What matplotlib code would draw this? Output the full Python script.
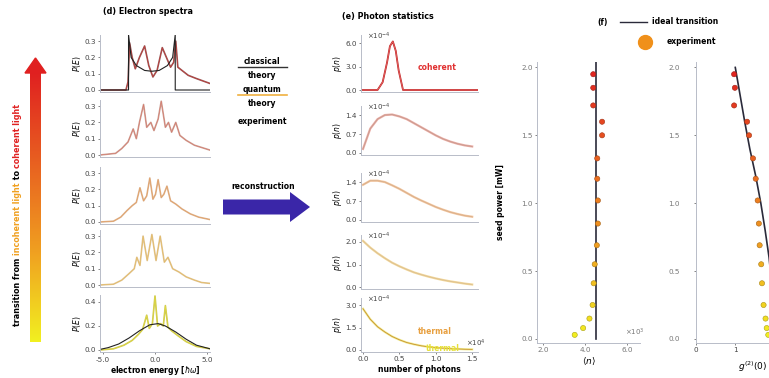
import numpy as np
import matplotlib
matplotlib.use("Agg")
import matplotlib.pyplot as plt
from matplotlib.colors import LinearSegmentedColormap
from matplotlib.patches import Polygon, FancyArrow

# ---------------- data ----------------
# (d) electron spectra, energy in units of hbar*omega
e_row1 = [-5.3, -2.8, -2.6, -2.45, -2.2, -1.9, -1.5, -1.0, -0.6, -0.2, 0.2, 0.7, 1.1, 1.5, 1.8, 2.0, 2.2, 2.6, 3.2, 4.0, 5.3]
p_row1 = [0, 0, 0.05, 0.29, 0.2, 0.13, 0.2, 0.27, 0.15, 0.08, 0.12, 0.26, 0.2, 0.14, 0.17, 0.3, 0.14, 0.12, 0.09, 0.07, 0.04]
e_row1_cl = [-5.3, -2.55, -2.55, -2.3, -1.8, -1.0, -0.3, 0.4, 1.2, 1.7, 1.95, 1.95, 5.3]
p_row1_cl = [0, 0, 0.34, 0.2, 0.15, 0.12, 0.115, 0.12, 0.15, 0.2, 0.34, 0, 0]
e_row2 = [-5.3, -3.8, -3.2, -2.6, -2.1, -1.8, -1.5, -1.1, -0.8, -0.4, -0.1, 0.3, 0.6, 1.0, 1.3, 1.6, 2.0, 2.4, 3.0, 3.8, 5.3]
p_row2 = [0, 0.01, 0.04, 0.08, 0.16, 0.1, 0.2, 0.31, 0.17, 0.2, 0.15, 0.22, 0.33, 0.17, 0.2, 0.14, 0.2, 0.12, 0.09, 0.06, 0.03]
e_row3 = [-5.3, -4.0, -3.3, -2.7, -2.2, -1.8, -1.45, -1.1, -0.8, -0.5, -0.2, 0.05, 0.3, 0.6, 0.85, 1.15, 1.5, 2.0, 2.6, 3.4, 4.2, 5.3]
p_row3 = [0, 0.005, 0.03, 0.07, 0.1, 0.12, 0.21, 0.13, 0.16, 0.27, 0.14, 0.17, 0.26, 0.15, 0.17, 0.22, 0.13, 0.11, 0.08, 0.05, 0.03, 0.015]
e_row4 = [-5.3, -4.0, -3.2, -2.5, -2.0, -1.75, -1.45, -1.15, -0.75, -0.3, 0.1, 0.5, 0.9, 1.25, 1.7, 2.3, 3.0, 3.8, 4.5, 5.3]
p_row4 = [0, 0.005, 0.03, 0.07, 0.1, 0.17, 0.12, 0.3, 0.15, 0.31, 0.15, 0.3, 0.14, 0.17, 0.1, 0.08, 0.05, 0.03, 0.015, 0.01]
e_row5 = [-5.3, -4.0, -3.0, -2.2, -1.6, -1.2, -0.8, -0.55, -0.25, 0.0, 0.25, 0.55, 0.8, 1.0, 1.25, 1.6, 2.2, 3.0, 4.0, 5.3]
p_row5 = [0, 0.01, 0.04, 0.08, 0.13, 0.17, 0.29, 0.18, 0.22, 0.45, 0.2, 0.22, 0.2, 0.37, 0.19, 0.16, 0.12, 0.07, 0.03, 0.01]
e_row5_cl = [-5.3, -4.5, -3.5, -2.5, -1.5, -0.5, 0.3, 1.0, 2.0, 3.0, 4.0, 5.3]
p_row5_cl = [0.005, 0.02, 0.05, 0.1, 0.16, 0.21, 0.22, 0.2, 0.15, 0.09, 0.04, 0.01]

# (e) photon statistics, n in units of 1e4, p(n) in units of 1e-4
n_grid = [0.0, 0.1, 0.2, 0.3, 0.4, 0.5, 0.6, 0.7, 0.8, 0.9, 1.0, 1.1, 1.2, 1.3, 1.4, 1.5]
n_coh = [0.0, 0.2, 0.27, 0.33, 0.37, 0.41, 0.45, 0.49, 0.55, 1.6]
p_coh = [0.0, 0.0, 1.0, 3.5, 5.6, 6.2, 5.0, 2.5, 0.0, 0.0]
p_e2 = [0.15, 0.9, 1.25, 1.4, 1.42, 1.35, 1.25, 1.1, 0.95, 0.8, 0.65, 0.52, 0.42, 0.34, 0.28, 0.24]
p_e3 = [1.3, 1.45, 1.45, 1.4, 1.28, 1.15, 1.0, 0.85, 0.72, 0.6, 0.48, 0.38, 0.29, 0.22, 0.16, 0.12]
p_e4 = [2.05, 1.75, 1.5, 1.28, 1.08, 0.92, 0.78, 0.65, 0.55, 0.46, 0.38, 0.31, 0.25, 0.2, 0.15, 0.11]
p_e5 = [2.75, 2.05, 1.55, 1.2, 0.9, 0.68, 0.5, 0.38, 0.28, 0.21, 0.16, 0.12, 0.09, 0.07, 0.05, 0.04]

# (f) seed power [mW], mean photon number (1e3), g2(0)
power = [1.95, 1.85, 1.72, 1.6, 1.5, 1.33, 1.18, 1.02, 0.85, 0.69, 0.55, 0.41, 0.25, 0.15, 0.08, 0.03]
mean_n = [4.38, 4.38, 4.38, 4.8, 4.8, 4.57, 4.57, 4.6, 4.6, 4.55, 4.45, 4.4, 4.35, 4.2, 3.9, 3.5]
g2 = [0.97, 0.99, 0.97, 1.3, 1.35, 1.45, 1.52, 1.57, 1.6, 1.62, 1.66, 1.68, 1.72, 1.77, 1.8, 1.84]
ideal_power = [2.0, 1.8, 1.6, 1.4, 1.2, 1.0, 0.8, 0.6, 0.4, 0.2, 0.0]
ideal_g2 = [1.0, 1.12, 1.24, 1.37, 1.52, 1.65, 1.76, 1.86, 1.93, 1.98, 2.0]
ideal_n = [4.52, 4.52]
ideal_n_power = [0.0, 2.04]

# ---------------- styling ----------------
W, H = 769, 378
fig = plt.figure(figsize=(W / 100, H / 100), dpi=100)
plt.rcParams['font.family'] = ['DejaVu Sans']
FS = 5.2
row_cols = ['#d6302c', '#dc6a5c', '#e8964e', '#e8b84a', '#e6e03c']
spec_cols = ['#8a4848', '#c79a8e', '#d8ae8a', '#dcbf8f', '#c8c23c']
spine_c = '#b8bcc8'
cmap = LinearSegmentedColormap.from_list('yr', ['#f2f020', '#f0a020', '#e86020', '#e02020'])


def ax_px(x0, y0, x1, y1):
    return fig.add_axes([x0 / W, 1 - y1 / H, (x1 - x0) / W, (y1 - y0) / H])


def style(ax, color=spine_c):
    for s in ['top', 'right']:
        ax.spines[s].set_visible(False)
    for s in ['left', 'bottom']:
        ax.spines[s].set_color(color)
        ax.spines[s].set_linewidth(0.7)
    ax.tick_params(labelsize=FS, length=1.5, width=0.5, pad=1.5, colors='#555555', labelcolor='#444444')
    ax.patch.set_alpha(0)


# ---------------- left gradient arrow ----------------
axg = ax_px(30, 72, 41, 342)
grad = np.linspace(0, 1, 256).reshape(-1, 1)
axg.imshow(grad, aspect='auto', cmap=cmap, origin='lower', extent=[0, 1, 0, 1])
axg.set_axis_off()
fig.patches.append(Polygon([[25 / W, 1 - 73 / H], [46 / W, 1 - 73 / H], [35.5 / W, 1 - 58 / H]],
                           closed=True, transform=fig.transFigure, color='#e02020'))

# rotated multi-colour label
pieces = [("transition from ", 'black'), ("incoherent light", '#f0a020'), (" to ", 'black'), ("coherent light", '#e02020')]
fig.canvas.draw()
r = fig.canvas.get_renderer()
ycur = 326
for txt, c in pieces:
    t = fig.text(18 / W, 1 - ycur / H, txt, rotation=90, rotation_mode='anchor', ha='left', va='center',
                 fontsize=5.8, fontweight='bold', color=c)
    bb = t.get_window_extent(r)
    ycur -= bb.height

# ---------------- (d) electron spectra ----------------
fig.text(148 / W, 1 - 12 / H, "(d) Electron spectra", ha='center', va='center', fontsize=5.8, fontweight='bold')
d_zero = [90, 155, 222, 285, 350]
spectra = [(e_row1, p_row1), (e_row2, p_row2), (e_row3, p_row3), (e_row4, p_row4), (e_row5, p_row5)]
for i in range(5):
    z = d_zero[i]
    if i < 4:
        ylim = (-0.015, 0.34)
        scale = 163.0
        ticks = [0.0, 0.1, 0.2, 0.3]
    else:
        ylim = (-0.02, 0.46)
        scale = 120.0
        ticks = [0.0, 0.2, 0.4]
    top = z - ylim[1] * scale
    bot = z - ylim[0] * scale
    ax = ax_px(100, top, 210, bot)
    style(ax)
    e, p = spectra[i]
    ax.plot(e, p, color=spec_cols[i], lw=1.2, alpha=0.9)
    ax.plot(e, p, color=row_cols[i], lw=0.4, alpha=0.8)
    if i == 0:
        ax.plot(e_row1_cl, p_row1_cl, color='#222222', lw=0.8)
    if i == 4:
        ax.plot(e_row5_cl, p_row5_cl, color='#222222', lw=0.8)
    ax.set_xlim(-5.3, 5.3)
    ax.set_ylim(*ylim)
    ax.set_yticks(ticks)
    ax.set_yticklabels([f"{t:.1f}" for t in ticks])
    ax.set_ylabel("$P(E)$", fontsize=5.5, labelpad=1)
    ax.set_xticks([-5, 0, 5])
    if i < 4:
        ax.tick_params(labelbottom=False, length=0, axis='x')
    else:
        ax.set_xticklabels(["-5.0", "0.0", "5.0"])
        ax.set_xlabel("electron energy [$\\hbar\\omega$]", fontsize=5.5, fontweight='bold', labelpad=1)

# ---------------- middle legend ----------------
fig.text(262 / W, 1 - 61 / H, "classical", ha='center', va='center', fontsize=5.5, fontweight='bold')
fig.add_artist(plt.Line2D([238 / W, 287 / W], [1 - 67 / H, 1 - 67 / H], color='#333333', lw=1.0))
fig.text(262 / W, 1 - 75 / H, "theory", ha='center', va='center', fontsize=5.5, fontweight='bold')
fig.text(262 / W, 1 - 89 / H, "quantum", ha='center', va='center', fontsize=5.5, fontweight='bold')
fig.add_artist(plt.Line2D([238 / W, 287 / W], [1 - 95 / H, 1 - 95 / H], color='#f0b040', lw=1.2))
fig.text(262 / W, 1 - 103 / H, "theory", ha='center', va='center', fontsize=5.5, fontweight='bold')
fig.text(262 / W, 1 - 121 / H, "experiment", ha='center', va='center', fontsize=5.5, fontweight='bold')
fig.text(263 / W, 1 - 187 / H, "reconstruction", ha='center', va='center', fontsize=5.5, fontweight='bold')
fig.patches.append(FancyArrow(223 / W, 1 - 207 / H, 87 / W, 0, width=15 / H, head_width=30 / H,
                              head_length=20 / W, length_includes_head=True, transform=fig.transFigure,
                              color='#3a26a8', lw=0))

# ---------------- (e) photon statistics ----------------
fig.text(388 / W, 1 - 17 / H, "(e) Photon statistics", ha='center', va='center', fontsize=5.8, fontweight='bold')
e_zero = [90, 153, 220, 287, 350]
e_scale = [7.83, 27.1, 27.1, 22.5, 15.0]
e_ylim = [(-0.3, 7.0), (-0.08, 1.75), (-0.08, 1.75), (-0.1, 2.3), (-0.15, 3.5)]
e_ticks = [[0.0, 3.0, 6.0], [0.0, 0.7, 1.4], [0.0, 0.7, 1.4], [0.0, 1.0, 2.0], [0.0, 1.5, 3.0]]
e_data = [None, p_e2, p_e3, p_e4, p_e5]
for i in range(5):
    z = e_zero[i]
    yl = e_ylim[i]
    top = z - yl[1] * e_scale[i]
    bot = z - yl[0] * e_scale[i]
    ax = ax_px(361, top, 478, bot)
    style(ax)
    if i == 0:
        ax.plot(n_coh, p_coh, color='#c02020', lw=1.3)
        ax.plot(n_coh, p_coh, color='#f08080', lw=0.4)
        ax.text(1.02, 2.9, "coherent", color='#e03030', fontsize=5.5, fontweight='bold', ha='center', va='center')
    else:
        ax.plot(n_grid, e_data[i], color=row_cols[i], lw=1.6, alpha=0.55)
        ax.plot(n_grid, e_data[i], color=spec_cols[i] if i < 4 else '#c89030', lw=0.6)
    ax.set_xlim(-0.0275, 1.58)
    ax.set_ylim(*yl)
    ax.set_yticks(e_ticks[i])
    ax.set_yticklabels([f"{t:.1f}" for t in e_ticks[i]])
    ax.set_ylabel("$p(n)$", fontsize=5.5, labelpad=1)
    ax.text(0.06, yl[1] * 0.97, "$\\times10^{-4}$", fontsize=5.0, color='#444444', ha='left', va='center')
    ax.set_xticks([0.0, 0.5, 1.0, 1.5])
    if i < 4:
        ax.tick_params(axis='x', labelbottom=False, length=0)
    else:
        ax.set_xticklabels(["0.0", "0.5", "1.0", "1.5"])
        ax.set_xlabel("number of photons", fontsize=5.5, fontweight='bold', labelpad=2)
        ax.text(1.55, 0.45, "$\\times10^{4}$", fontsize=5.0, color='#444444', ha='center', va='center')
        ax.text(0.98, 1.2, "thermal", color='#e8a040', fontsize=5.5, fontweight='bold', ha='center', va='center')
        ax.text(1.1, 0.13, "thermal", color='#e6e03c', fontsize=5.5, fontweight='bold', ha='center', va='center')

# ---------------- (f) ----------------
cols_pts = [cmap(p / 2.0) for p in power]
edge_pts = [tuple(0.7 * c for c in col[:3]) for col in cols_pts]

axf1 = ax_px(537, 62, 640, 343)
style(axf1)
axf1.plot(ideal_n, ideal_n_power, color='#2a2a3a', lw=1.2)
axf1.scatter(mean_n, power, s=14, c=cols_pts, edgecolors=edge_pts, linewidths=0.4, zorder=3, clip_on=False)
axf1.set_xlim(1.71, 6.6)
axf1.set_ylim(-0.03, 2.04)
axf1.set_xticks([2.0, 4.0, 6.0])
axf1.set_xticklabels(["2.0", "4.0", "6.0"])
axf1.set_yticks([0.0, 0.5, 1.0, 1.5, 2.0])
axf1.set_yticklabels(["0.0", "0.5", "1.0", "1.5", "2.0"])
axf1.tick_params(labelcolor='#777777')
axf1.set_ylabel("seed power [mW]", fontsize=5.5, fontweight='bold', labelpad=12)
axf1.set_xlabel("$\\langle n\\rangle$", fontsize=6.5, labelpad=2)
axf1.text(6.35, 0.05, "$\\times10^{3}$", fontsize=5.0, color='#777777', ha='center', va='center')

axf2 = ax_px(696, 62, 806, 343)
style(axf2)
axf2.plot(ideal_g2, ideal_power, color='#2a2a3a', lw=1.2)
axf2.scatter(g2, power, s=14, c=cols_pts, edgecolors=edge_pts, linewidths=0.4, zorder=3, clip_on=False)
axf2.set_xlim(0.0, 2.8)
axf2.set_ylim(-0.03, 2.04)
axf2.set_xticks([0, 1])
axf2.set_xticklabels(["0", "1"])
axf2.set_yticks([0.0, 0.5, 1.0, 1.5, 2.0])
axf2.set_yticklabels(["0.0", "0.5", "1.0", "1.5", "2.0"])
axf2.tick_params(labelcolor='#777777', pad=10, axis='y')
fig.text(767 / W, 1 - 367 / H, "$g^{(2)}(0)$", ha='right', va='center', fontsize=6.5)

# legend for (f)
fig.text(603 / W, 1 - 23 / H, "(f)", ha='center', va='center', fontsize=5.5, fontweight='bold')
fig.add_artist(plt.Line2D([620 / W, 647 / W], [1 - 22 / H, 1 - 22 / H], color='#2a2a3a', lw=1.0))
fig.text(652 / W, 1 - 22 / H, "ideal transition", ha='left', va='center', fontsize=5.5, fontweight='bold')
fig.add_artist(plt.Line2D([645 / W], [1 - 42 / H], marker='o', markersize=10, color='#f0901a', lw=0))
fig.text(667 / W, 1 - 42 / H, "experiment", ha='left', va='center', fontsize=5.5, fontweight='bold')

fig.savefig("out.png", dpi=100)
